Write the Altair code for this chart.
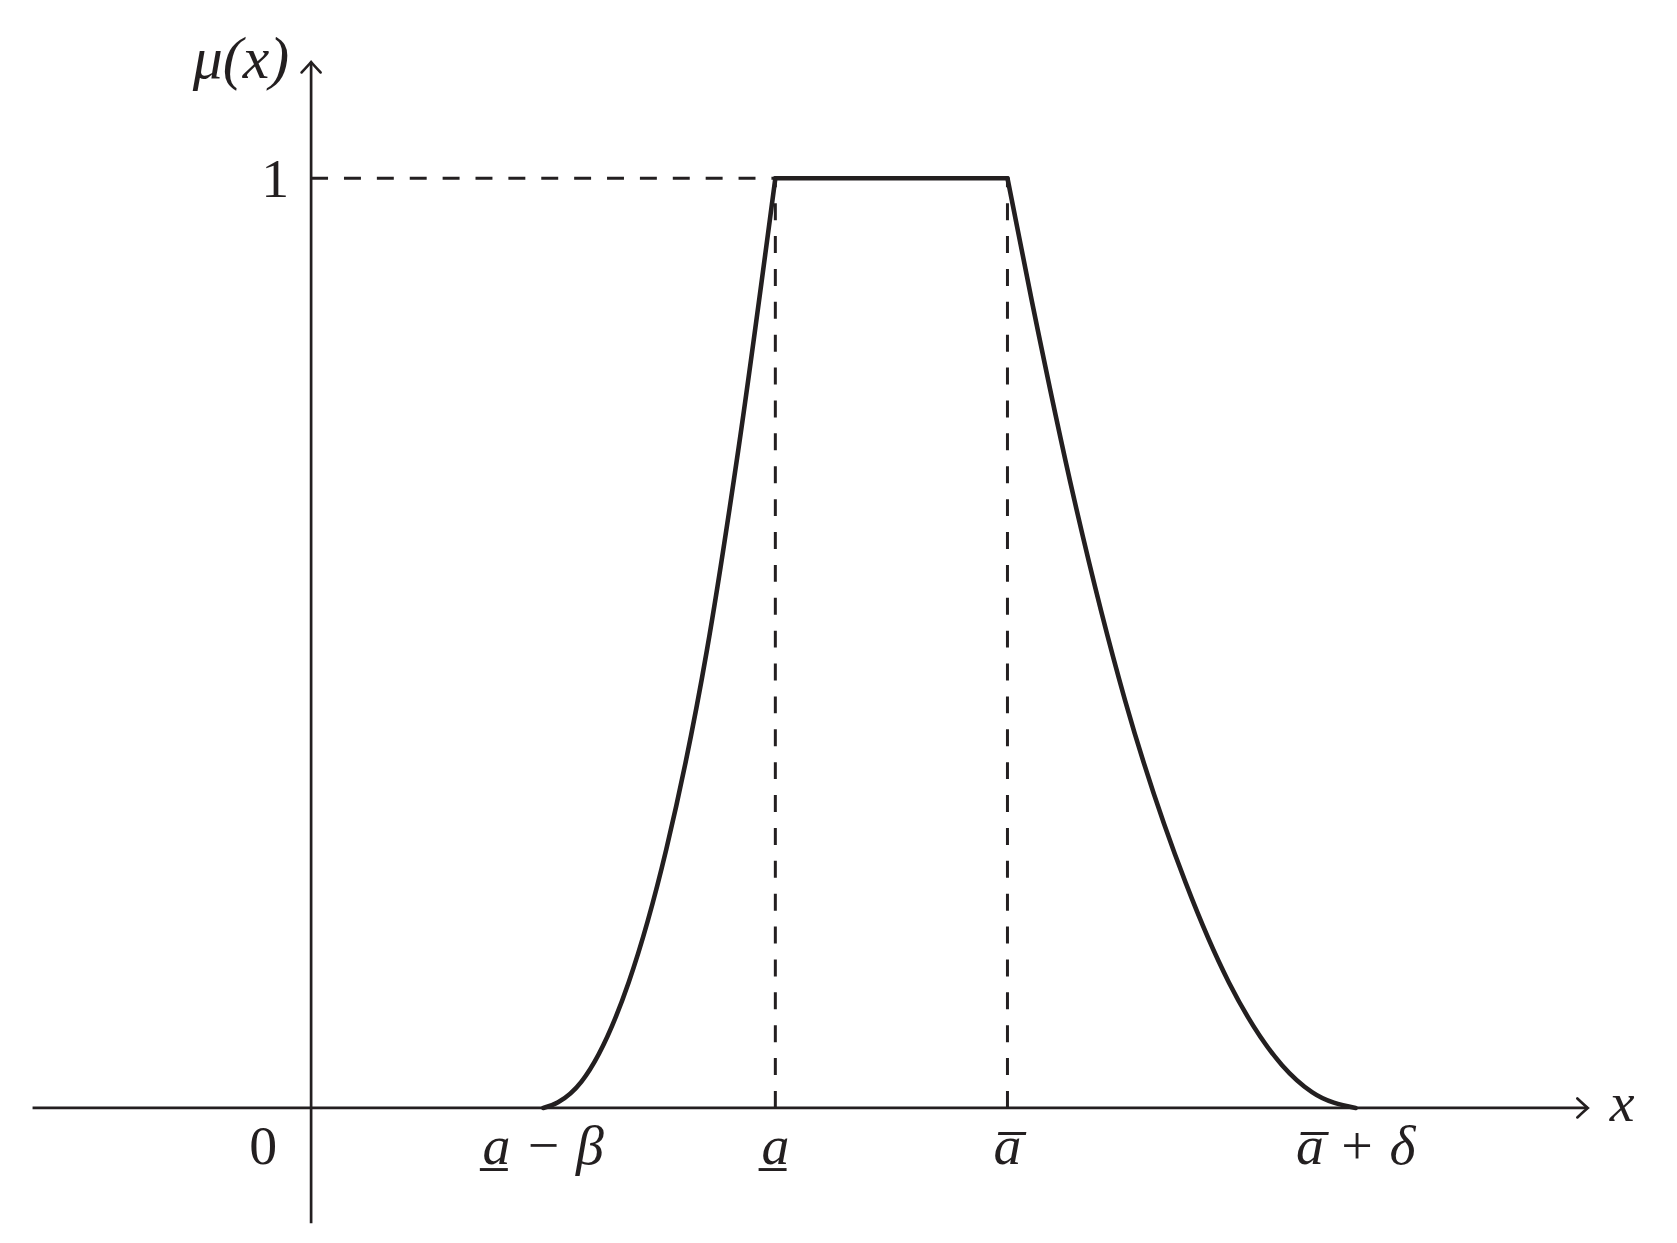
import altair as alt
import pandas as pd

# ---- data (data units: a-beta = 1, a = 2, a-bar = 3, a-bar + delta = 4.5) ----
left_x = [1.0, 1.064, 1.164, 1.368, 1.530, 1.705, 1.840, 2.0]
left_y = [0.0, 0.006, 0.028, 0.135, 0.278, 0.492, 0.707, 1.0]
top_x = [2.0, 3.0]
top_y = [1.0, 1.0]
right_x = [3.0, 3.105, 3.289, 3.506, 3.768, 3.954, 4.183, 4.312, 4.5]
right_y = [1.0, 0.868, 0.653, 0.439, 0.242, 0.135, 0.046, 0.017, 0.0]

tick_values = [1.0, 2.0, 3.0, 4.5]
tick_labels = ["a\u0332 \u2212 \u03b2", "a\u0332", "a\u0305", "a\u0305 + \u03b4"]

x_axis_min, x_axis_max = -1.2, 5.5
y_axis_min, y_axis_max = -0.124, 1.125
level_one = 1.0

INK = "#231f20"
FONT = "Liberation Serif"
FS = 56

xs = alt.Scale(domain=[-1.25, 5.85], nice=False, zero=False)
ys = alt.Scale(domain=[-0.13, 1.17], nice=False, zero=False)

curve_df = pd.DataFrame({
    "x": left_x + top_x + right_x,
    "y": left_y + top_y + right_y,
    "seg": ["left"] * len(left_x) + ["top"] * len(top_x) + ["right"] * len(right_x),
})

axes_df = pd.DataFrame({
    "x": [x_axis_min, 0.0], "x2": [x_axis_max, 0.0],
    "y": [0.0, y_axis_min], "y2": [0.0, y_axis_max],
})

guides_df = pd.DataFrame({
    "x": [0.0, tick_values[1], tick_values[2]],
    "x2": [tick_values[1], tick_values[1], tick_values[2]],
    "y": [level_one, 0.0, 0.0],
    "y2": [level_one, level_one, level_one],
})

ticks_df = pd.DataFrame({"x": tick_values, "y": [0.0] * 4, "label": tick_labels})

X = lambda f="x": alt.X(f"{f}:Q", scale=xs, axis=None)
Y = lambda f="y": alt.Y(f"{f}:Q", scale=ys, axis=None)

axes = alt.Chart(axes_df).mark_rule(color=INK, strokeWidth=2.7).encode(
    x=X(), x2="x2:Q", y=Y(), y2="y2:Q")

guides = alt.Chart(guides_df).mark_rule(color=INK, strokeWidth=3.0, strokeDash=[17, 16]).encode(
    x=X(), x2="x2:Q", y=Y(), y2="y2:Q")

curve = alt.Chart(curve_df).mark_line(color=INK, strokeWidth=4.6, interpolate="monotone",
                                      strokeCap="round", strokeJoin="miter").encode(
    x=X(), y=Y(), detail="seg:N", order="x:Q")

x_arrow = alt.Chart(pd.DataFrame({"x": [x_axis_max], "y": [0.0]})).mark_point(
    shape="M -1.1 -1 Q -0.3 -0.25 0 0 Q -0.3 0.25 -1.1 1", size=361, filled=False,
    stroke=INK, strokeWidth=2.7, opacity=1, strokeCap="round").encode(x=X(), y=Y())

y_arrow = alt.Chart(pd.DataFrame({"x": [0.0], "y": [y_axis_max]})).mark_point(
    shape="M -1 1.1 Q -0.25 0.3 0 0 Q 0.25 0.3 1 1.1", size=361, filled=False,
    stroke=INK, strokeWidth=2.7, opacity=1, strokeCap="round").encode(x=X(), y=Y())

tick_text = alt.Chart(ticks_df).mark_text(
    font=FONT, fontSize=FS, fontStyle="italic", color=INK, align="center",
    baseline="alphabetic", dy=56).encode(x=X(), y=Y(), text="label:N")

zero_text = alt.Chart(pd.DataFrame({"x": [0.0], "y": [0.0], "t": ["0"]})).mark_text(
    font=FONT, fontSize=FS, color=INK, align="right", baseline="alphabetic",
    dx=-34, dy=56).encode(x=X(), y=Y(), text="t:N")

one_text = alt.Chart(pd.DataFrame({"x": [0.0], "y": [level_one], "t": ["1"]})).mark_text(
    font=FONT, fontSize=FS, color=INK, align="right", baseline="alphabetic",
    dx=-22, dy=19).encode(x=X(), y=Y(), text="t:N")

mu_text = alt.Chart(pd.DataFrame({"x": [0.0], "y": [y_axis_max], "t": ["\u03bc(x)"]})).mark_text(
    font=FONT, fontSize=60, fontStyle="italic", color=INK, align="right", baseline="alphabetic",
    dx=-22, dy=16).encode(x=X(), y=Y(), text="t:N")

x_text = alt.Chart(pd.DataFrame({"x": [x_axis_max], "y": [0.0], "t": ["x"]})).mark_text(
    font=FONT, fontSize=FS, fontStyle="italic", color=INK, align="left", baseline="alphabetic",
    dx=22, dy=13).encode(x=X(), y=Y(), text="t:N")

chart = alt.layer(
    axes, guides, curve, x_arrow, y_arrow, tick_text, zero_text, one_text, mu_text, x_text
).properties(
    width=1654, height=1213,
    autosize=alt.AutoSizeParams(type="none"),
    padding={"left": 13, "top": 10, "right": 0, "bottom": 0},
    background="white",
).configure_view(stroke=None)

chart.save("out.html", embed_options={"renderer": "svg", "actions": False})
